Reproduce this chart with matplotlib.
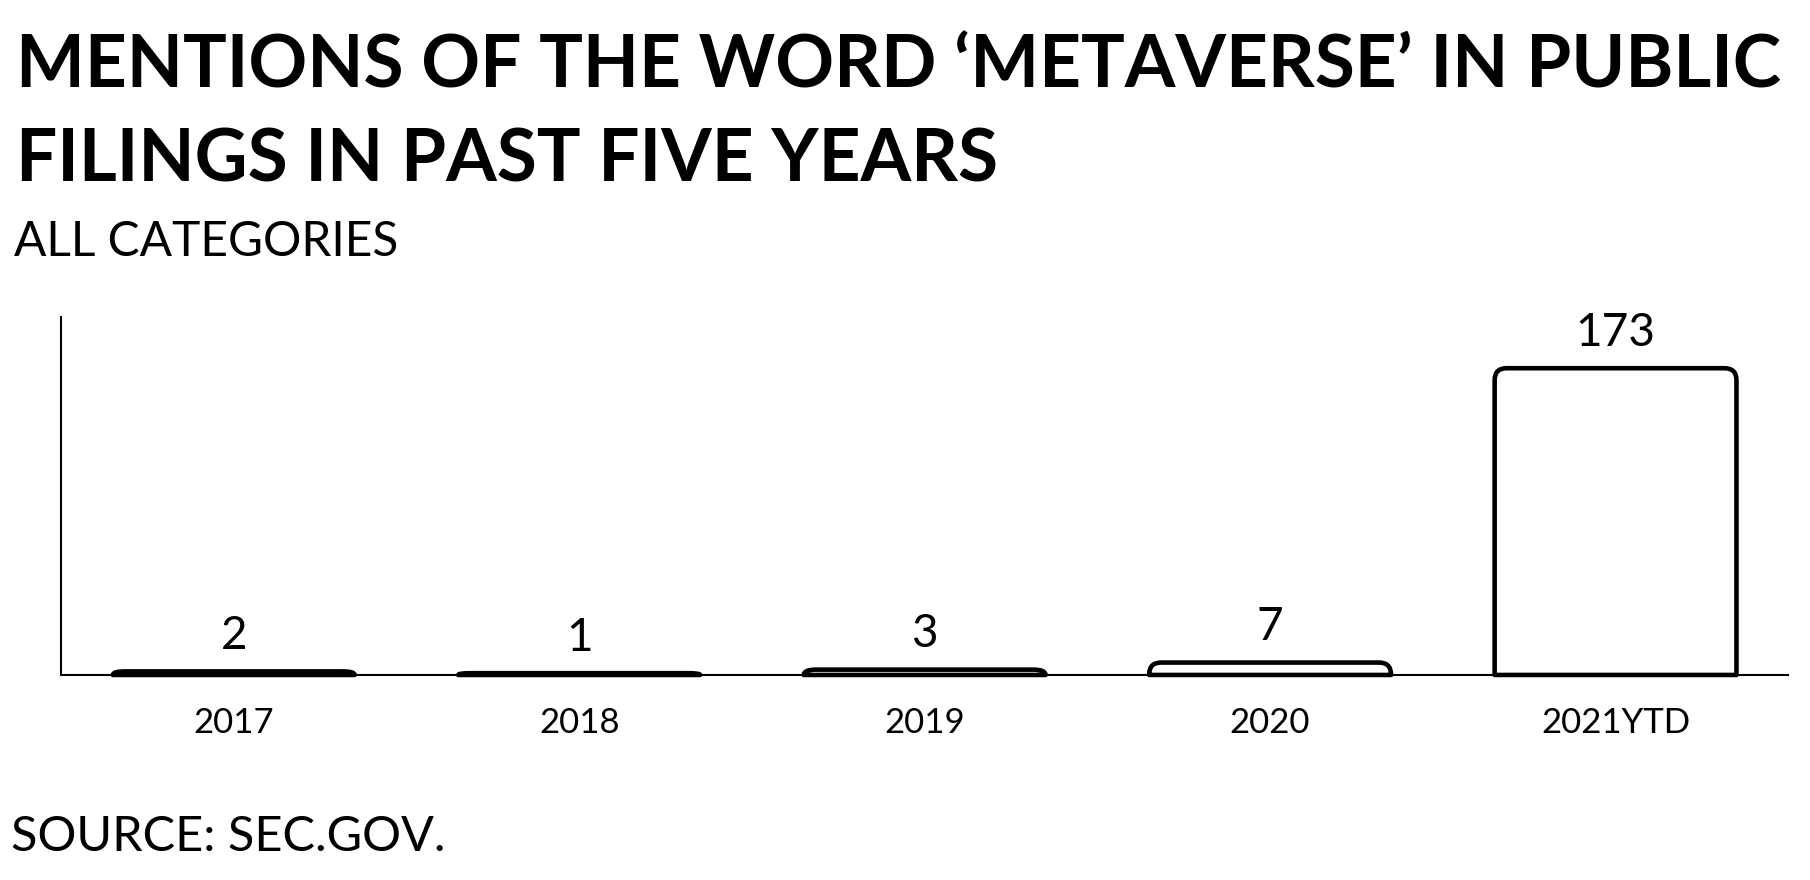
import numpy as np
import matplotlib
matplotlib.use("Agg")
import matplotlib.pyplot as plt
from matplotlib.path import Path
from matplotlib.patches import PathPatch

# data
anos = ["2017", "2018", "2019", "2020", "2021YTD"]
mencoes = [2, 1, 3, 7, 173]

titulo_l1 = "MENTIONS OF THE WORD \u2018METAVERSE\u2019 IN PUBLIC"
titulo_l2 = "FILINGS IN PAST FIVE YEARS"
subtitulo = "ALL CATEGORIES"
fonte = "SOURCE: SEC.GOV."


def barra_arredondada(ax, x, h, largura, rx, ry, lw=3.3):
    """ Barra com os cantos de cima arredondados (coordenadas de dados)"""
    x0 = x - largura / 2
    x1 = x + largura / 2
    ry = min(ry, h)
    verts = [(x0, 0), (x0, h - ry), (x0, h), (x0 + rx, h),
             (x1 - rx, h), (x1, h), (x1, h - ry), (x1, 0), (x0, 0)]
    codes = [Path.MOVETO, Path.LINETO, Path.CURVE3, Path.CURVE3,
             Path.LINETO, Path.CURVE3, Path.CURVE3, Path.LINETO, Path.CLOSEPOLY]
    p = PathPatch(Path(verts, codes), facecolor="white", edgecolor="black",
                  lw=lw, joinstyle="round", zorder=3, clip_on=False)
    ax.add_patch(p)


fig = plt.figure(figsize=(18.1, 8.8), dpi=100)
ax = fig.add_axes([0.0337, 0.233, 0.9543, 0.407])

x = np.arange(len(anos))
ymax = 202
largura = 0.7
# raio ~12 px convertido para unidades de dados
rx = 12 / 346
ry = 12 / (0.407 * 880 / ymax)
for xi, v in zip(x, mencoes):
    barra_arredondada(ax, xi, v, largura, rx, ry)
    ax.annotate(str(v), (xi, v), xytext=(0, 16), textcoords="offset points",
                ha="center", va="baseline", fontsize=33, family="Lato")

ax.set_xlim(-0.5, len(anos) - 0.5)
ax.set_ylim(0, ymax)
ax.set_xticks(x)
ax.set_xticklabels(anos, fontsize=25, family="Lato")
ax.tick_params(axis="x", length=0, pad=23)
ax.set_yticks([])
for s in ["top", "right"]:
    ax.spines[s].set_visible(False)
for s in ["left", "bottom"]:
    ax.spines[s].set_linewidth(1.5)

fig.text(0.009, 1 - 87 / 880, titulo_l1, fontsize=52.5, fontweight="bold",
         family="Lato", va="baseline", ha="left")
fig.text(0.009, 1 - 181 / 880, titulo_l2, fontsize=52.5, fontweight="bold",
         family="Lato", va="baseline", ha="left")
fig.text(0.008, 1 - 256 / 880, subtitulo, fontsize=34.5, family="Lato",
         va="baseline", ha="left")
fig.text(0.006, 1 - 851 / 880, fonte, fontsize=35, family="Lato",
         va="baseline", ha="left")

fig.savefig("out.png", dpi=100, facecolor="white")
